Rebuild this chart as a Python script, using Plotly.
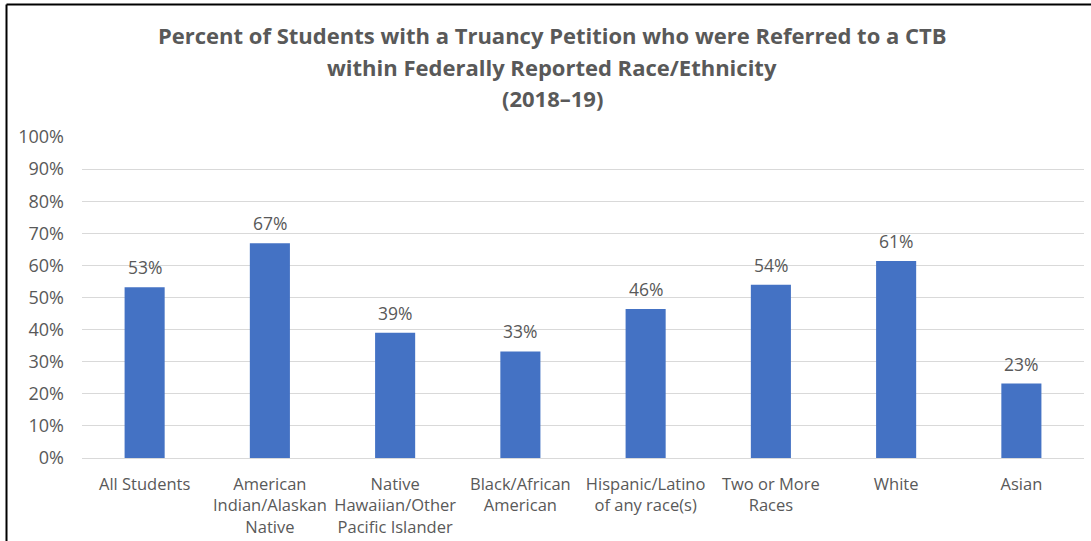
import plotly.graph_objects as go

categories = [
    "All Students",
    "American<br>Indian/Alaskan<br>Native",
    "Native<br>Hawaiian/Other<br>Pacific Islander",
    "Black/African<br>American",
    "Hispanic/Latino<br>of any race(s)",
    "Two or More<br>Races",
    "White",
    "Asian",
]
values = [0.532, 0.669, 0.390, 0.332, 0.464, 0.540, 0.614, 0.232]
y_ticks = [0, 0.1, 0.2, 0.3, 0.4, 0.5, 0.6, 0.7, 0.8, 0.9, 1.0]
title_lines = [
    "Percent of Students with a Truancy Petition who were Referred to a CTB",
    "within Federally Reported Race/Ethnicity",
    "(2018–19)",
]

TXT = "#595959"
FONT = "Open Sans"

MT, MB = 137, 83
PLOT_BOTTOM = 541 - MB
PLOT_H = 541 - MT - MB

fig = go.Figure(
    go.Bar(
        x=categories,
        y=values,
        marker=dict(color="#4472C4", line=dict(width=0)),
        width=0.32,
        hoverinfo="x+y",
    )
)

annotations = []
for c, v in zip(categories, values):
    annotations.append(dict(
        x=c, y=v, xref="x", yref="y",
        text=f"{round(v * 100):.0f}%",
        showarrow=False, yanchor="bottom", yshift=6,
        font=dict(size=17.5, color=TXT, family=FONT),
    ))

title_y_px = [35, 67, 98]
for line, ypx in zip(title_lines, title_y_px):
    annotations.append(dict(
        x=(552 - 82) / 1002, xref="paper",
        y=(PLOT_BOTTOM - ypx) / PLOT_H, yref="paper",
        xanchor="center", yanchor="middle",
        text=f"<b>{line}</b>", showarrow=False,
        font=dict(size=22, color=TXT, family=FONT),
    ))

fig.update_layout(
    width=1091,
    height=541,
    margin=dict(l=82, r=7, t=MT, b=MB, autoexpand=False),
    paper_bgcolor="white",
    plot_bgcolor="white",
    showlegend=False,
    font=dict(family=FONT, color=TXT),
    annotations=annotations,
    xaxis=dict(
        automargin=False,
        showgrid=False,
        showline=True,
        linecolor="#D9D9D9",
        linewidth=1,
        tickfont=dict(size=16.5, color=TXT, family=FONT),
        ticks="",
        ticklabelstandoff=11,
    ),
    yaxis=dict(
        automargin=False,
        range=[0, 1.0],
        tickvals=y_ticks,
        tickformat=".0%",
        showgrid=True,
        gridcolor="#D9D9D9",
        gridwidth=1,
        zeroline=False,
        tickfont=dict(size=18, color=TXT, family=FONT),
        ticklabelstandoff=17,
    ),
    shapes=[
        dict(type="line", xref="paper", yref="paper",
             x0=(6.5 - 82) / 1002, x1=1.01,
             y0=(PLOT_BOTTOM - 4.5) / PLOT_H, y1=(PLOT_BOTTOM - 4.5) / PLOT_H,
             line=dict(color="black", width=2)),
        dict(type="line", xref="paper", yref="paper",
             x0=(6.5 - 82) / 1002, x1=(6.5 - 82) / 1002,
             y0=(PLOT_BOTTOM - 4.5) / PLOT_H, y1=-0.4,
             line=dict(color="black", width=2)),
    ],
)

fig.write_html(
    "out.html",
    config={"displayModeBar": False},
    post_script="document.body.style.margin='0';document.body.style.overflow='hidden';",
)
